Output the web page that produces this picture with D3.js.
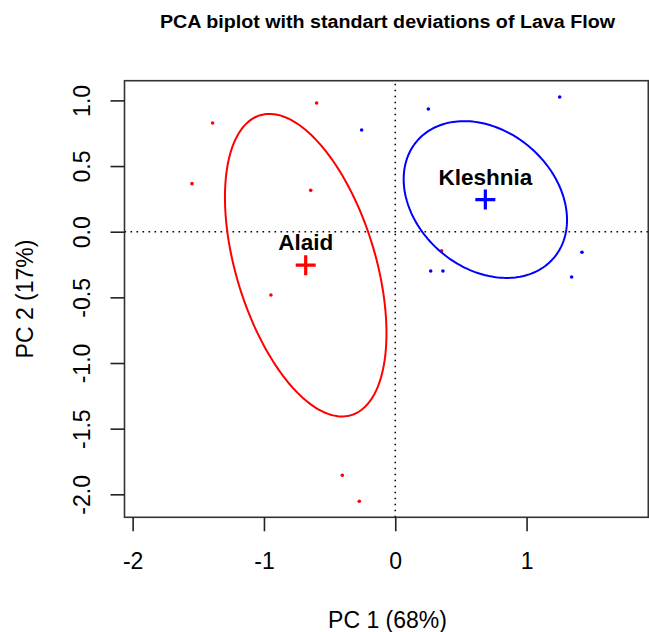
<!DOCTYPE html>
<html>
<head>
<meta charset="utf-8">
<script src="https://cdn.jsdelivr.net/npm/d3@7"></script>
<style>
  body { margin: 0; background: #fff; }
  svg { font-family: "Liberation Sans", Arial, sans-serif; }
</style>
</head>
<body>
<svg id="chart" width="649" height="632"></svg>
<script>
// PC scores
var alaidX = [-0.599, -1.391, -1.548, -0.644, -0.947, -0.403, -0.274, 0.353];
var alaidY = [0.980, 0.828, 0.366, 0.315, -0.482, -1.855, -2.053, -0.145];
var kleshniaX = [-0.256, 0.252, 1.252, 1.422, 1.343, 0.270, 0.363];
var kleshniaY = [0.775, 0.935, 1.026, -0.157, -0.345, -0.299, -0.299];

// group means, standard deviations and correlation (for the ellipses)
var groups = ["Alaid", "Kleshnia"];
var groupColors = ["#ff0000", "#0000ff"];
var meanX = [-0.682, 0.686];
var meanY = [-0.255, 0.245];
var sdX = [0.615, 0.622];
var sdY = [1.152, 0.597];
var corr = [-0.449, -0.26];

var xTicks = [-2, -1, 0, 1];
var yTicks = [1.0, 0.5, 0.0, -0.5, -1.0, -1.5, -2.0];

var svg = d3.select("#chart");

var x = d3.scaleLinear().domain([-2.062, 1.927]).range([124.5, 648.3]);
var y = d3.scaleLinear().domain([-2.175, 1.150]).range([517.3, 80.7]);

// title
svg.append("text")
  .attr("x", 387.5)
  .attr("y", 27.5)
  .attr("text-anchor", "middle")
  .attr("textLength", 455)
  .attr("lengthAdjust", "spacingAndGlyphs")
  .style("font-weight", "bold")
  .style("font-size", "17.5px")
  .text("PCA biplot with standart deviations of Lava Flow");

// dotted zero lines
svg.append("line")
  .attr("x1", x(0)).attr("x2", x(0))
  .attr("y1", y.range()[0]).attr("y2", y.range()[1])
  .attr("stroke", "#000").attr("stroke-width", 1.6)
  .attr("stroke-dasharray", "1.6,4.4");
svg.append("line")
  .attr("x1", x.range()[0]).attr("x2", x.range()[1])
  .attr("y1", y(0)).attr("y2", y(0))
  .attr("stroke", "#000").attr("stroke-width", 1.6)
  .attr("stroke-dasharray", "1.6,4.4");

// points
function drawPoints(xs, ys, col) {
  svg.append("g").selectAll("circle")
    .data(xs)
    .enter().append("circle")
    .attr("cx", function(d) { return x(d); })
    .attr("cy", function(d, i) { return y(ys[i]); })
    .attr("r", 1.8)
    .attr("fill", col);
}
drawPoints(alaidX, alaidY, groupColors[0]);
drawPoints(kleshniaX, kleshniaY, groupColors[1]);

// standard deviation ellipses, labels and mean crosses
var line = d3.line().x(function(p) { return x(p[0]); }).y(function(p) { return y(p[1]); });
groups.forEach(function(g, k) {
  var pts = d3.range(0, 201).map(function(i) {
    var t = i / 200 * 2 * Math.PI;
    return [meanX[k] + sdX[k] * Math.cos(t),
            meanY[k] + sdY[k] * Math.cos(t - Math.acos(corr[k]))];
  });
  svg.append("path")
    .attr("d", line(pts))
    .attr("fill", "none")
    .attr("stroke", groupColors[k])
    .attr("stroke-width", 2);

  var cx = x(meanX[k]), cy = y(meanY[k]);
  svg.append("text")
    .attr("x", cx)
    .attr("y", cy - 15)
    .attr("text-anchor", "middle")
    .style("font-weight", "bold")
    .style("font-size", "22.5px")
    .text(g);
  svg.append("path")
    .attr("d", "M" + (cx - 10) + "," + cy + "H" + (cx + 10) + "M" + cx + "," + (cy - 10) + "V" + (cy + 10))
    .attr("stroke", groupColors[k])
    .attr("stroke-width", 3.2);
});

// box
svg.append("rect")
  .attr("x", x.range()[0]).attr("y", y.range()[1])
  .attr("width", x.range()[1] - x.range()[0])
  .attr("height", y.range()[0] - y.range()[1])
  .attr("fill", "none")
  .attr("stroke", "#333")
  .attr("stroke-width", 1.6);

// x axis
var gx = svg.append("g")
  .attr("transform", "translate(0," + y.range()[0] + ")")
  .call(d3.axisBottom(x).tickValues(xTicks).tickSize(14).tickPadding(21)
    .tickFormat(function(d) { return String(d); }));
gx.select(".domain").remove();
gx.selectAll("line").attr("stroke", "#222").attr("stroke-width", 1.6);
gx.selectAll("text")
  .attr("fill", "#000")
  .style("font-size", "23px")
  .style("font-family", "'Liberation Sans', Arial, sans-serif");

// y axis
var gy = svg.append("g")
  .attr("transform", "translate(" + x.range()[0] + ",0)")
  .call(d3.axisLeft(y).tickValues(yTicks).tickSize(14)
    .tickFormat(function(d) { return d.toFixed(1); }));
gy.select(".domain").remove();
gy.selectAll("line").attr("stroke", "#222").attr("stroke-width", 1.6);
gy.selectAll("text")
  .attr("x", null).attr("dy", null)
  .attr("fill", "#000")
  .attr("text-anchor", "middle")
  .attr("transform", "translate(-34.5,0) rotate(-90)")
  .style("font-size", "23px")
  .style("font-family", "'Liberation Sans', Arial, sans-serif");

// axis titles
svg.append("text")
  .attr("x", 387.5)
  .attr("y", 628)
  .attr("text-anchor", "middle")
  .style("font-size", "23px")
  .text("PC 1 (68%)");
svg.append("text")
  .attr("transform", "translate(33,299) rotate(-90)")
  .attr("text-anchor", "middle")
  .style("font-size", "23px")
  .text("PC 2 (17%)");
</script>
</body>
</html>
